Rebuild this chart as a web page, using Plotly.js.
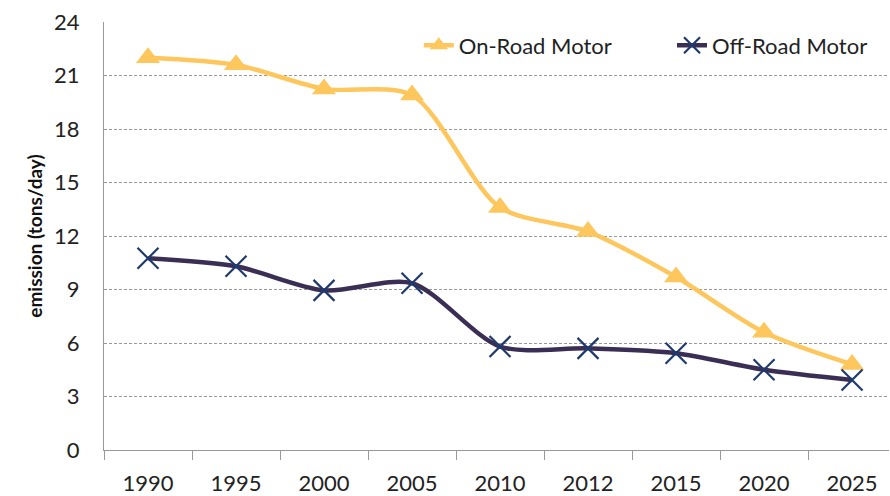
<!DOCTYPE html>
<html><head><meta charset="utf-8">
<script src="https://cdn.plot.ly/plotly-3.0.1.min.js"></script>
<style>body{margin:0;background:#fff}#c{width:890px;height:496px}</style>
</head><body><div id="c"></div>
<script>
var years = ["1990","1995","2000","2005","2010","2012","2015","2020","2025"];
var onRoad = [22.0, 21.6, 20.25, 19.9, 13.6, 12.25, 9.7, 6.6, 4.8];
var offRoad = [10.75, 10.3, 8.95, 9.35, 5.8, 5.7, 5.43, 4.5, 3.93];
var yTicks = [0,3,6,9,12,15,18,21,24];
var F = "Lato, 'Open Sans', sans-serif";
var traces = [
 {x: years, y: onRoad, name: "On-Road Motor", type: "scatter", mode: "lines+markers", legend: "legend",
  line: {color: "#FDC75D", width: 4.5, shape: "spline", smoothing: 0.8},
  marker: {symbol: "triangle-up", size: 21, color: "#FDC75D"}},
 {x: years, y: offRoad, name: "Off-Road Motor", type: "scatter", mode: "lines+markers", legend: "legend2",
  line: {color: "#3B2E55", width: 4.5, shape: "spline", smoothing: 0.8},
  marker: {symbol: "x-thin-open", size: 21, color: "#1F3A6E", line: {width: 2.2, color: "#1F3A6E"}}}
];
var legFont = {family: F, size: 22, color: "#222"};
var layout = {
 width: 890, height: 496,
 margin: {l: 104, r: 1, t: 22, b: 46},
 paper_bgcolor: "#fff", plot_bgcolor: "#fff",
 font: {family: F, color: "#333", size: 22},
 showlegend: true,
 legend: {orientation: "h", x: 0.401, y: 0.945, xanchor: "left", yanchor: "middle",
   font: legFont, bgcolor: "rgba(0,0,0,0)"},
 legend2: {orientation: "h", x: 0.7236, y: 0.945, xanchor: "left", yanchor: "middle",
   font: legFont, bgcolor: "rgba(0,0,0,0)"},
 xaxis: {type: "category", range: [-0.5, 8.42], tickson: "boundaries", ticks: "outside", ticklen: 9,
   tickcolor: "#999", showline: true, linecolor: "#999", linewidth: 1, showgrid: false,
   ticklabelstandoff: 14,
   tickfont: {family: F, size: 22, color: "#222"}, fixedrange: true},
 yaxis: {range: [0, 24], tickmode: "array", tickvals: yTicks, ticks: "outside", ticklen: 19, tickcolor: "rgba(0,0,0,0)",
   showline: true, linecolor: "#999", linewidth: 1, showgrid: true, gridcolor: "#999", griddash: "3px,2px",
   zeroline: false, tickfont: {family: F, size: 22, color: "#222"},
   title: {text: "<b>emission (tons/day)</b>", font: {family: F, size: 19, color: "#111"}, standoff: 6}},
 yaxis2: {overlaying: "y", anchor: "x", side: "left", range: [0, 24], tickmode: "array", tickvals: yTicks,
   ticks: "outside", ticklen: 9, tickcolor: "#999", showticklabels: false, showgrid: false,
   showline: false, zeroline: false}
};
Plotly.newPlot("c", traces, layout, {staticPlot: true});
</script></body></html>
